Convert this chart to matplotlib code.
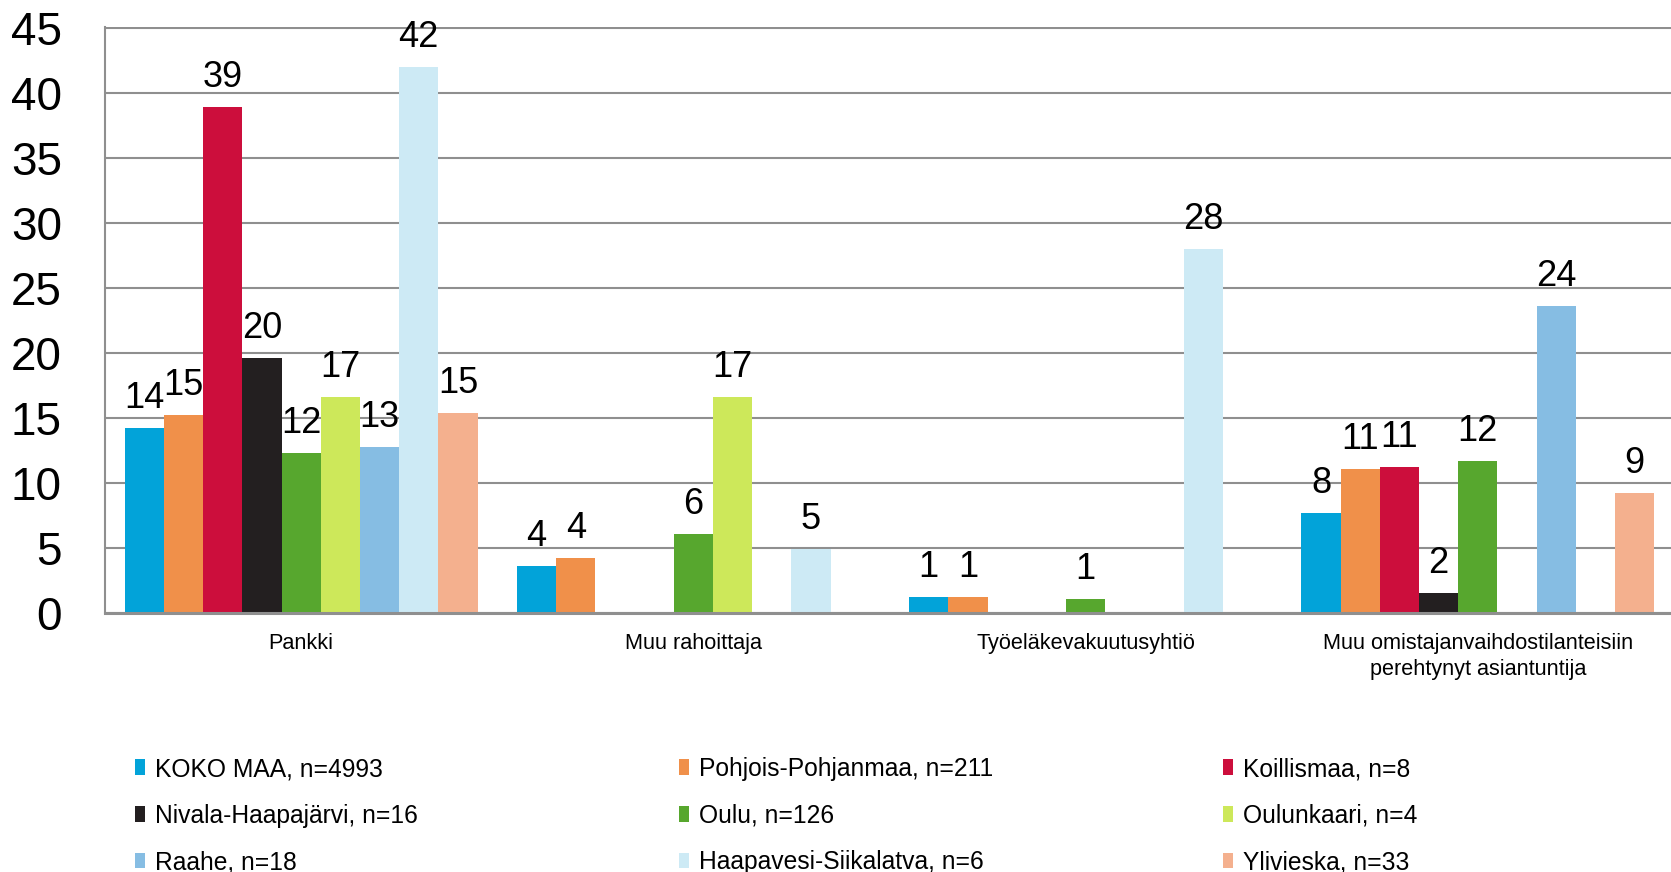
import numpy as np
import matplotlib
matplotlib.use("Agg")
import matplotlib.pyplot as plt

plt.rcParams['font.family'] = ['Liberation Sans', 'DejaVu Sans']

categories = ["Pankki", "Muu rahoittaja", "Työeläkevakuutusyhtiö",
              "Muu omistajanvaihdostilanteisiin\nperehtynyt asiantuntija"]
series_names = ["KOKO MAA, n=4993", "Pohjois-Pohjanmaa, n=211", "Koillismaa, n=8",
                "Nivala-Haapajärvi, n=16", "Oulu, n=126", "Oulunkaari, n=4",
                "Raahe, n=18", "Haapavesi-Siikalatva, n=6", "Ylivieska, n=33"]
nan = np.nan
koko_maa   = [14.2, 3.6, 1.2, 7.7]
pohjois    = [15.2, 4.2, 1.25, 11.1]
koillismaa = [38.9, nan, nan, 11.25]
nivala     = [19.6, nan, nan, 1.55]
oulu       = [12.3, 6.1, 1.1, 11.7]
oulunkaari = [16.6, 16.6, nan, nan]
raahe      = [12.8, nan, nan, 23.6]
haapavesi  = [42.0, 4.9, 28.0, nan]
ylivieska  = [15.4, nan, nan, 9.2]
series_values = [koko_maa, pohjois, koillismaa, nivala, oulu, oulunkaari,
                 raahe, haapavesi, ylivieska]
colors = ["#02a3d9", "#f0904a", "#cc0e3c", "#231f20", "#57a72e", "#cde85a",
          "#86bde3", "#cdeaf5", "#f4b08e"]
yticks = [0, 5, 10, 15, 20, 25, 30, 35, 40, 45]

W, H = 1671, 872
fig = plt.figure(figsize=(W / 100, H / 100), dpi=100)
ax = fig.add_axes([105 / W, (H - 613) / H, (1674 - 105) / W, (613 - 26.7) / H])

x = np.arange(len(categories))
bw = 0.1
handles = []
for i, (vals, col, name) in enumerate(zip(series_values, colors, series_names)):
    vals = np.array(vals, dtype=float)
    pos = x + (i - 4) * bw
    b = ax.bar(pos, vals, width=bw, color=col, label=name, zorder=3, linewidth=0)
    handles.append(b)
    for p, v in zip(pos, vals):
        if np.isnan(v):
            continue
        ax.annotate(f"{v:.0f}", xy=(p, v), xytext=(0, 14.4), textcoords="offset points",
                    ha="center", va="baseline", fontsize=26, color="black", zorder=4)

ax.set_xlim(-0.5, len(categories) - 0.5)
ax.set_ylim(0, 45.1)
ax.set_yticks(yticks)
ax.set_yticklabels([str(t) for t in yticks], fontsize=33)
ax.set_xticks(x)
ax.set_xticklabels(categories, fontsize=15.6, linespacing=1.3)
ax.tick_params(axis="y", length=0, pad=31)
ax.tick_params(axis="x", length=0, pad=14.5)
ax.yaxis.grid(True, color="#8f8f8f", linewidth=1.5, zorder=0)
ax.set_axisbelow(True)
for s in ["top", "right"]:
    ax.spines[s].set_visible(False)
ax.spines["left"].set_color("#8f8f8f")
ax.spines["left"].set_linewidth(1.5)
ax.spines["bottom"].set_color("#8f8f8f")
ax.spines["bottom"].set_linewidth(2.2)
ax.spines["bottom"].set_zorder(5)

col_x = [135 / W, 679 / W, 1223 / W]
for c in range(3):
    hs = [handles[c], handles[c + 3], handles[c + 6]]
    fig.legend(handles=hs, labels=[h.get_label() for h in hs], loc="upper left",
               bbox_to_anchor=(col_x[c], (H - 757) / H), frameon=False, fontsize=17.75,
               borderpad=0, borderaxespad=0, handlelength=0.42, handleheight=0.6,
               handletextpad=0.4, labelspacing=0.92)

fig.savefig("out.png", dpi=100)
